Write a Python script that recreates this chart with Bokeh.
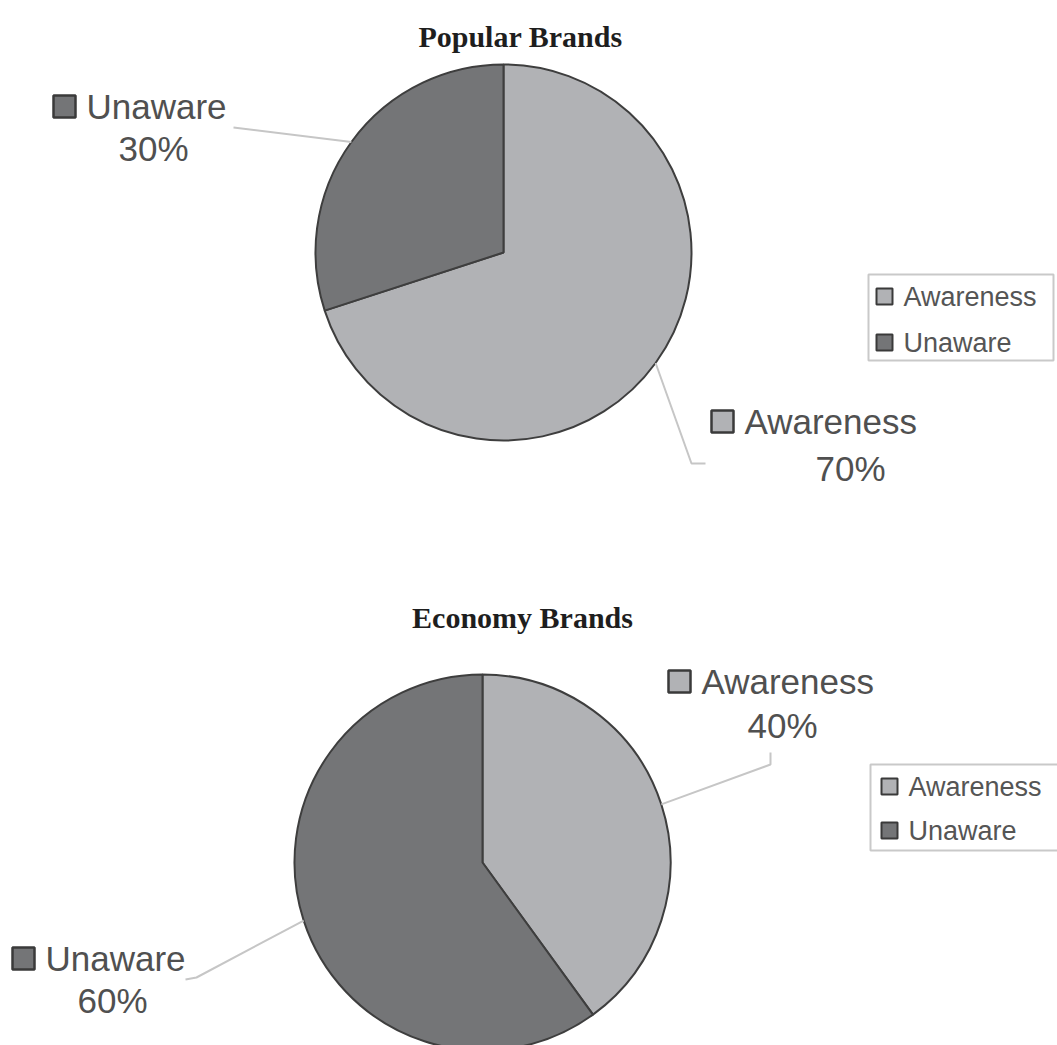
import math
from bokeh.plotting import figure
from bokeh.models import Range1d
from bokeh.core.properties import value
from bokeh.embed import file_html
from bokeh.resources import INLINE

# ---- data ----
categories = ["Awareness", "Unaware"]
popular_values = [70, 30]
economy_values = [40, 60]
chart_titles = ["Popular Brands", "Economy Brands"]

# ---- styling ----
W, H = 1057, 1045
slice_colors = {"Awareness": "#b1b2b5", "Unaware": "#747577"}
edge_color = "#3e3e3e"
leader_color = "#c6c6c6"
label_color = "#505050"
LABEL_FONT = value("Liberation Sans")
TITLE_FONT = value("Liberation Serif")


def Y(y):
    """Convert a top-down pixel row into the figure's upward y."""
    return H - y


p = figure(width=W, height=H, output_backend="svg", toolbar_location=None,
           x_range=Range1d(0, W), y_range=Range1d(0, H),
           min_border=0, outline_line_color=None)
p.axis.visible = False
p.grid.visible = False
p.background_fill_color = "white"
p.border_fill_color = "white"

# per-chart layout: pie centre/radius, title, legend box, label anchors
layouts = [
    dict(cx=503, cy=252, r=188, title_x=520, title_y=36,
         legend=(868, 274, 1053, 360), legend_rows=(296, 342), legend_sw_x=875,
         labels={
             "Unaware": dict(box=52, name_y=106, pct=(153, 148),
                             elbow=[(233, 127)]),
             "Awareness": dict(box=710, name_y=421, pct=(850, 468),
                               elbow=[(691, 463), (705, 463)]),
         }),
    dict(cx=482, cy=862, r=188, title_x=522, title_y=617,
         legend=(870, 764, 1062, 850), legend_rows=(786, 830), legend_sw_x=880,
         labels={
             "Awareness": dict(box=667, name_y=681, pct=(782, 725),
                               elbow=[(770, 764), (770, 752)]),
             "Unaware": dict(box=11, name_y=958, pct=(112, 1000),
                             elbow=[(196, 977), (185, 979)]),
         }),
]

for values, title, lay in zip([popular_values, economy_values], chart_titles, layouts):
    cx, cy, r = lay["cx"], lay["cy"], lay["r"]
    total = float(sum(values))

    # title
    p.text(x=[lay["title_x"]], y=[Y(lay["title_y"])], text=[title],
           text_font=TITLE_FONT, text_font_style="bold", text_font_size="30px",
           text_color="#1e1e1e", text_align="center", text_baseline="alphabetic")

    # slices run clockwise from twelve o'clock
    cum = 0.0
    for cat, v in zip(categories, values):
        sweep = 360.0 * v / total
        start = math.radians(90.0 - (cum + sweep))
        end = math.radians(90.0 - cum)
        p.wedge(x=[cx], y=[Y(cy)], radius=r, start_angle=start, end_angle=end,
                fill_color=slice_colors[cat], line_color=edge_color, line_width=2)

        # leader line from the slice's mid-arc to its label
        mid = math.radians(90.0 - (cum + sweep / 2.0))
        mx, my = cx + r * math.cos(mid), Y(cy) + r * math.sin(mid)
        lab = lay["labels"][cat]
        xs = [mx] + [e[0] for e in lab["elbow"]]
        ys = [my] + [Y(e[1]) for e in lab["elbow"]]
        p.line(xs, ys, line_color=leader_color, line_width=2)

        # label: swatch, category name, percentage
        bx = lab["box"]
        ny = lab["name_y"]
        p.rect(x=[bx + 12], y=[Y(ny)], width=22, height=22,
               fill_color=slice_colors[cat], line_color="#3a3a3a", line_width=2.5)
        p.text(x=[bx + 34], y=[Y(ny)], text=[cat], text_font=LABEL_FONT,
               text_font_size="35px", text_color=label_color,
               text_align="left", text_baseline="middle")
        px_, py_ = lab["pct"]
        p.text(x=[px_], y=[Y(py_)], text=[f"{v}%"], text_font=LABEL_FONT,
               text_font_size="35px", text_color=label_color,
               text_align="center", text_baseline="middle")
        cum += sweep

    # legend box
    x0, y0, x1, y1 = lay["legend"]
    p.quad(left=[x0], right=[x1], top=[Y(y0)], bottom=[Y(y1)],
           fill_color="white", line_color="#c9c9c9", line_width=2)
    for cat, ry in zip(categories, lay["legend_rows"]):
        sx = lay["legend_sw_x"]
        p.rect(x=[sx + 9], y=[Y(ry)], width=16, height=16,
               fill_color=slice_colors[cat], line_color="#3a3a3a", line_width=2)
        p.text(x=[sx + 28], y=[Y(ry)], text=[cat], text_font=LABEL_FONT,
               text_font_size="27px", text_color="#555555",
               text_align="left", text_baseline="middle")

open("out.html", "w").write(file_html(p, INLINE))
